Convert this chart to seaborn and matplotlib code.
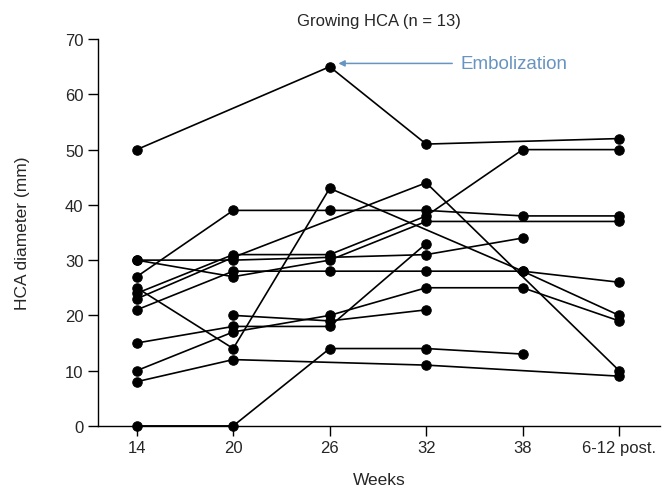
import matplotlib
matplotlib.use("Agg")
import matplotlib.pyplot as plt
import seaborn as sns
import pandas as pd
import numpy as np

weeks = ["14", "20", "26", "32", "38", "6-12 post."]

# Each patient: dict week-label -> diameter (mm); missing weeks are absent
patients = {
    "P1":  {"14": 50, "26": 65, "32": 51, "6-12 post.": 52},
    "P2":  {"14": 27, "20": 39, "26": 39, "32": 39, "38": 38, "6-12 post.": 38},
    "P3":  {"14": 24, "20": 31, "26": 31, "32": 38, "38": 50, "6-12 post.": 50},
    "P4":  {"14": 30, "20": 30, "26": 30.5, "32": 31, "38": 34},
    "P5":  {"14": 30, "20": 27, "26": 30, "32": 37, "6-12 post.": 37},
    "P6":  {"14": 23, "20": 30.5, "32": 44, "6-12 post.": 10},
    "P7":  {"14": 21, "20": 28, "26": 28, "32": 28, "38": 28, "6-12 post.": 26},
    "P8":  {"14": 25, "20": 14, "26": 43, "38": 28, "6-12 post.": 20},
    "P9":  {"14": 15, "20": 18, "26": 18, "32": 33},
    "P10": {"14": 10, "20": 17, "26": 20, "32": 25, "38": 25, "6-12 post.": 19},
    "P11": {"20": 20, "26": 19, "32": 21},
    "P12": {"14": 8, "20": 12, "32": 11, "6-12 post.": 9},
    "P13": {"14": 0, "20": 0, "26": 14, "32": 14, "38": 13},
}

rows = []
for pid, vals in patients.items():
    for w, v in vals.items():
        rows.append({"patient": pid, "pos": weeks.index(w), "val": v})
df = pd.DataFrame(rows)

sns.set_style("ticks")
plt.rcParams["font.family"] = ["Liberation Sans", "DejaVu Sans"]

fig = plt.figure(figsize=(6.63, 4.89), dpi=100)
ax = fig.add_axes([0.148, 0.127, 0.847, 0.791])

sns.lineplot(data=df, x="pos", y="val", units="patient", estimator=None,
             color="black", marker="o", markersize=6.8, markeredgecolor="black",
             linewidth=1.2, sort=True, ax=ax, clip_on=False, legend=False)

ax.set_xlim(-0.4, 5.42)
ax.set_ylim(0, 70)
ax.set_xticks(range(len(weeks)))
ax.set_xticklabels(weeks)
ax.set_yticks(range(0, 71, 10))
ax.tick_params(axis="both", labelsize=12, length=7, width=1, color="black")
ax.set_xlabel("Weeks", fontsize=12.5, labelpad=12)
ax.set_ylabel("HCA diameter (mm)", fontsize=12.5, labelpad=25)
ax.set_title("Growing HCA (n = 13)", fontsize=12, pad=10)
sns.despine(ax=ax)
for s in ["left", "bottom"]:
    ax.spines[s].set_linewidth(1.0)
    ax.spines[s].set_color("black")

blue = "#6794c0"
ax.annotate("", xy=(2.09, 65.6), xytext=(3.27, 65.6),
            arrowprops=dict(arrowstyle="-|>", color=blue, lw=1.1,
                            mutation_scale=9, shrinkA=0, shrinkB=0))
ax.text(3.36, 65.6, "Embolization", color=blue, fontsize=13.5, va="center", ha="left")

fig.savefig("out.png", dpi=100)
